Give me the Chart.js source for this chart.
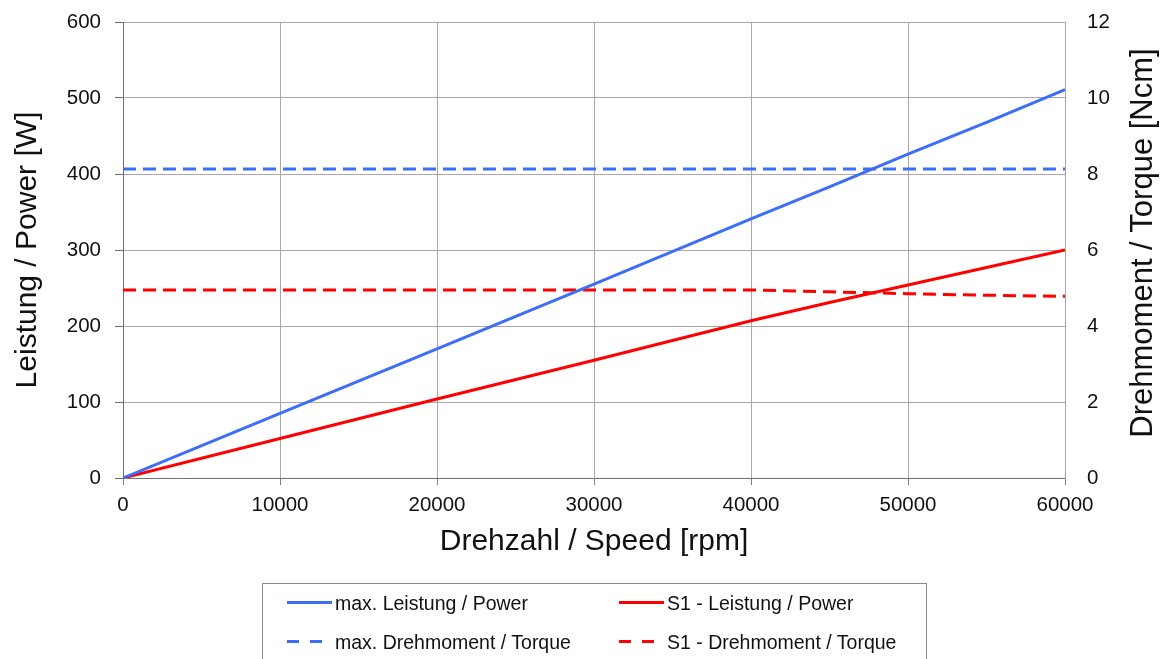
<!DOCTYPE html>
<html><head><meta charset="utf-8">
<script src="https://cdn.jsdelivr.net/npm/chart.js@4"></script>
<style>
html,body{margin:0;padding:0;background:#fff;}
#wrap{position:relative;width:1162px;height:659px;overflow:hidden;font-family:"Liberation Sans",Arial,sans-serif;}
#c{position:absolute;left:0;top:0;}
#legend{position:absolute;left:262px;top:583px;width:665px;height:100px;border:1px solid #8a8a8a;box-sizing:border-box;}
.item{position:absolute;font-size:19.5px;color:#111;white-space:nowrap;line-height:22px;}
.sw{position:absolute;width:45px;height:3px;}
</style></head><body>
<div id="wrap">
<canvas id="c" width="1162" height="659"></canvas>
<div id="legend"></div>
</div>
<script>
const speeds = [0, 10000, 20000, 30000, 40000, 45000, 50000, 55000, 60000];
const maxPower = [0, 85, 170, 255, 341, 383, 426, 468, 511];
const s1Power = [0, 52, 104, 155, 207, 231, 254, 277, 300];
const maxTorque = [8.13, 8.13, 8.13, 8.13, 8.13, 8.13, 8.13, 8.13, 8.13];
const s1Torque = [4.95, 4.95, 4.95, 4.95, 4.95, 4.90, 4.85, 4.81, 4.78];
const labels = ["max. Leistung / Power", "S1 - Leistung / Power", "max. Drehmoment / Torque", "S1 - Drehmoment / Torque"];
const xTitle = "Drehzahl / Speed [rpm]";
const yTitle = "Leistung / Power [W]";
const y1Title = "Drehmoment / Torque [Ncm]";
const BLUE = "#3d6ef7", RED = "#ff0000";
const FONT = "'Liberation Sans', Arial, sans-serif";

function pts(ys){ return speeds.map((s,i)=>({x:s,y:ys[i]})); }

const ds = [
  {label:labels[0], data:pts(maxPower), borderColor:BLUE, yAxisID:'y', borderDash:[]},
  {label:labels[1], data:pts(s1Power), borderColor:RED, yAxisID:'y', borderDash:[]},
  {label:labels[2], data:pts(maxTorque), borderColor:BLUE, yAxisID:'y1', borderDash:[13,7]},
  {label:labels[3], data:pts(s1Torque), borderColor:RED, yAxisID:'y1', borderDash:[13,7]},
].map(d=>Object.assign(d,{borderWidth:3,pointRadius:0,fill:false,tension:0}));

const rightTitle = {
  id:'rightTitle',
  afterDraw(chart){
    const ctx = chart.ctx, ca = chart.chartArea;
    ctx.save();
    ctx.translate(1143, (ca.top+ca.bottom)/2 - 7);
    ctx.rotate(-Math.PI/2);
    ctx.font = "31px " + FONT;
    ctx.fillStyle = '#111';
    ctx.textAlign = 'center';
    ctx.textBaseline = 'middle';
    ctx.fillText(y1Title, 0, 0);
    ctx.restore();
  }
};

new Chart(document.getElementById('c'), {
  type:'line',
  data:{datasets:ds},
  plugins:[rightTitle],
  options:{
    responsive:false, animation:false,
    layout:{padding:{top:22,bottom:99,left:0,right:0}},
    plugins:{legend:{display:false},tooltip:{enabled:false}},
    scales:{
      x:{type:'linear',min:0,max:60000,
        ticks:{stepSize:10000,color:'#111',font:{family:FONT,size:20.5},padding:8,maxRotation:0,callback:v=>String(v)},
        grid:{color:'#a8a8a8',lineWidth:1,tickLength:7,tickColor:'#808080'},
        border:{color:'#707070',width:1},
        title:{display:true,text:xTitle,color:'#111',font:{family:FONT,size:30},padding:{top:2,bottom:0}},
        afterFit:s=>{s.height=82;s.paddingLeft=0;s.paddingRight=0;}
      },
      y:{position:'left',min:0,max:600,
        ticks:{stepSize:100,color:'#111',font:{family:FONT,size:20.5},padding:14},
        grid:{color:'#a8a8a8',lineWidth:1,tickLength:8,tickColor:'#707070'},
        border:{color:'#707070',width:1},
        title:{display:true,text:yTitle,color:'#111',font:{family:FONT,size:30},padding:{top:10,bottom:0}},
        afterFit:s=>{s.width=123;s.paddingTop=0;s.paddingBottom=0;}
      },
      y1:{position:'right',min:0,max:12,
        ticks:{stepSize:2,color:'#111',font:{family:FONT,size:20.5},padding:22},
        grid:{drawOnChartArea:false,drawTicks:false},
        border:{color:'#a8a8a8',width:1},
        title:{display:false},
        afterFit:s=>{s.width=97;s.paddingTop=0;s.paddingBottom=0;}
      }
    }
  }
});

// HTML legend built from dataset definitions
const lg = document.getElementById('legend');
const pos = [[24,17],[356,17],[24,56],[356,56]];
ds.forEach((d,i)=>{
  const [lx,ly] = pos[i];
  const sw = document.createElement('div');
  sw.className='sw';
  sw.style.left = lx+'px'; sw.style.top = ly+'px';
  if (d.borderDash.length){
    sw.style.background = `repeating-linear-gradient(90deg, ${d.borderColor} 0 12px, transparent 12px 23px)`;
    sw.style.width = '35px';
  } else sw.style.background = d.borderColor;
  lg.appendChild(sw);
  const t = document.createElement('div');
  t.className='item';
  t.style.left = (lx+48)+'px'; t.style.top = (ly-9)+'px';
  t.textContent = d.label;
  lg.appendChild(t);
});
</script>
</body></html>
